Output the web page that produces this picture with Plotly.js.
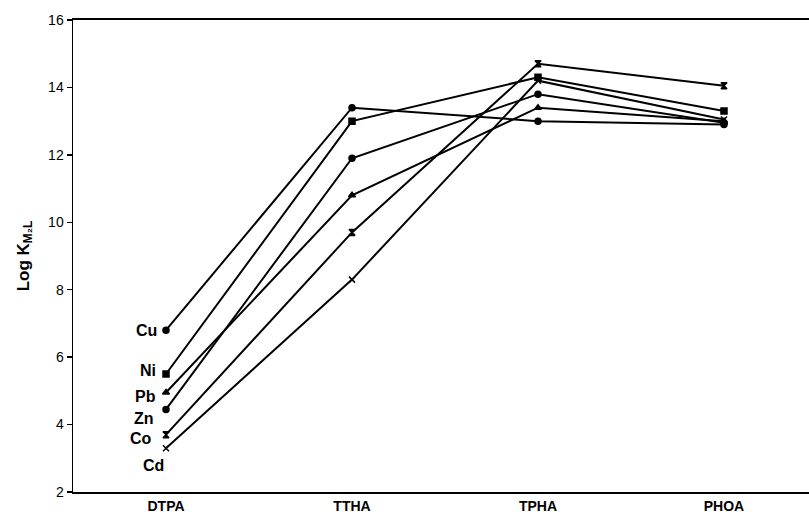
<!DOCTYPE html>
<html>
<head>
<meta charset="utf-8">
<script src="https://cdn.plot.ly/plotly-3.0.1.min.js"></script>
<style>html,body{margin:0;padding:0;background:#fff;}#chart{width:809px;height:528px;}</style>
</head>
<body>
<div id="chart"></div>
<script>
// Data
var ligands = ['DTPA', 'TTHA', 'TPHA', 'PHOA'];
var metals = ['Cu', 'Ni', 'Pb', 'Zn', 'Co', 'Cd'];
var Cu = [6.8, 13.4, 13.0, 12.9];
var Ni = [5.5, 13.0, 14.3, 13.3];
var Pb = [4.95, 10.8, 13.4, 13.0];
var Zn = [4.45, 11.9, 13.8, 12.95];
var Co = [3.7, 9.7, 14.7, 14.05];
var Cd = [3.3, 8.3, 14.2, 13.05];
var yTicks = [2, 4, 6, 8, 10, 12, 14, 16];

var seriesValues = [Cu, Ni, Pb, Zn, Co, Cd];
var symbols = ['circle', 'square', 'triangle-up', 'circle', 'hourglass', 'x-thin'];
var labelShift = [[-7, 0], [-8, 4], [-8, -4], [-10, -9], [-12, -4], [0, -17]];

var xIdx = ligands.map(function (_, i) { return i; });

var traces = seriesValues.map(function (vals, k) {
  return {
    x: xIdx,
    y: vals,
    name: metals[k],
    type: 'scatter',
    mode: 'lines+markers',
    line: {color: '#000', width: 2},
    marker: {symbol: symbols[k], size: 6, color: '#000', line: {color: '#000', width: 1.5}},
    showlegend: false,
    hoverinfo: 'x+y+name'
  };
});

var annotations = metals.map(function (m, k) {
  return {
    x: 0, y: seriesValues[k][0], xref: 'x', yref: 'y',
    text: '<b>' + m + '</b>', showarrow: false,
    xanchor: 'right', yanchor: 'middle',
    xshift: labelShift[k][0], yshift: labelShift[k][1],
    font: {family: 'Liberation Sans, Arial, sans-serif', size: 16, color: '#000'}
  };
});

var layout = {
  width: 809, height: 528,
  margin: {l: 73, r: 0, t: 20, b: 36},
  paper_bgcolor: '#fff', plot_bgcolor: '#fff',
  font: {family: 'Liberation Sans, Arial, sans-serif', color: '#000'},
  xaxis: {
    range: [-0.5, 3.457],
    tickvals: xIdx, ticktext: ligands.map(function (s) { return '<b>' + s + '</b>'; }),
    showgrid: false, zeroline: false,
    showline: true, linecolor: '#000', linewidth: 2, mirror: true,
    ticks: '', tickfont: {size: 14, color: '#000'}
  },
  yaxis: {
    range: [2, 16],
    tickvals: yTicks,
    showgrid: false, zeroline: false,
    showline: true, linecolor: '#000', linewidth: 1.5,
    ticks: 'outside', ticklen: 5, tickwidth: 1.5, tickcolor: '#000',
    tickfont: {size: 14, color: '#000'},
    title: {text: '<b>Log K<sub>M₂L</sub></b>', font: {size: 17, color: '#000'}, standoff: 14}
  }
};
layout.annotations = annotations;

Plotly.newPlot('chart', traces, layout, {displayModeBar: false, staticPlot: true});
</script>
</body>
</html>
